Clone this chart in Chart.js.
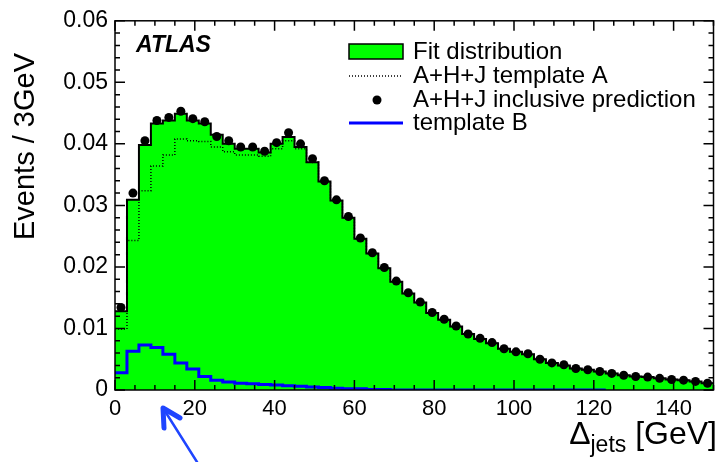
<!DOCTYPE html>
<html>
<head>
<meta charset="utf-8">
<script src="https://cdn.jsdelivr.net/npm/chart.js@4"></script>
<style>
    html, body { margin: 0; padding: 0; background: #ffffff; }
    #wrap { width: 718px; height: 462px; position: relative; }
</style>
</head>
<body>
<div id="wrap"><canvas id="chart" width="718" height="462"></canvas></div>
<script>
// Histogram binning (3 GeV bins from 0 to 150)
const BIN_WIDTH = 3;
const binEdges = Array.from({ length: 50 }, (_, i) => i * BIN_WIDTH);

// Fit distribution (green filled histogram)
const fitDistribution = [
    0.0128, 0.0309, 0.0398, 0.0433, 0.0438, 0.0449, 0.0438, 0.0433, 0.0415, 0.0400,
    0.0392, 0.0392, 0.0386, 0.0400, 0.0411, 0.0395, 0.0370, 0.0339, 0.0308, 0.0280,
    0.0246, 0.0222, 0.0198, 0.0176, 0.0157, 0.0142, 0.0125, 0.0114, 0.0103, 0.0091,
    0.0083, 0.0076, 0.0067, 0.0062, 0.0058, 0.0050, 0.0044, 0.0040, 0.0035, 0.0033,
    0.0030, 0.0027, 0.0024, 0.0022, 0.0021, 0.0019, 0.0017, 0.0016, 0.0014, 0.0011
];

// A+H+J template A (dotted)
const templateA = [
    0.0099, 0.0243, 0.0324, 0.0364, 0.0382, 0.0408, 0.0405, 0.0404, 0.0395, 0.0387,
    0.0382, 0.0382, 0.0380, 0.0392, 0.0405, 0.0392, 0.0370, 0.0339, 0.0308, 0.0280,
    0.0246, 0.0222, 0.0198, 0.0176, 0.0157, 0.0142, 0.0125, 0.0114, 0.0103, 0.0091,
    0.0083, 0.0076, 0.0067, 0.0062, 0.0058, 0.0050, 0.0044, 0.0040, 0.0035, 0.0033,
    0.0030, 0.0027, 0.0024, 0.0022, 0.0021, 0.0019, 0.0017, 0.0016, 0.0014, 0.0011
];

// A+H+J inclusive prediction (black dots at bin centres)
const inclusivePrediction = [
    0.0134, 0.0320, 0.0405, 0.0438, 0.0443, 0.0453, 0.0441, 0.0436, 0.0412, 0.0405,
    0.0395, 0.0395, 0.0388, 0.0402, 0.0418, 0.0400, 0.0376, 0.0340, 0.0309, 0.0282,
    0.0247, 0.0223, 0.0199, 0.0177, 0.0158, 0.0143, 0.0126, 0.0115, 0.0104, 0.0091,
    0.0084, 0.0077, 0.0067, 0.0062, 0.0059, 0.0050, 0.0044, 0.0041, 0.0035, 0.0033,
    0.0030, 0.0027, 0.0024, 0.0022, 0.0021, 0.0019, 0.0017, 0.0016, 0.0014, 0.0011
];

// template B (blue), drawn up to 123 GeV
const templateB = [
    0.0028, 0.0063, 0.0073, 0.0069, 0.0058, 0.0044, 0.0034, 0.0022, 0.0016, 0.0013,
    0.0011, 0.0010, 0.0009, 0.0008, 0.0007, 0.0006, 0.0005, 0.0004, 0.0003, 0.0002,
    0.0002, 0.0001, 0.0001, 0.0000, 0.0000, 0.0000, 0.0000, 0.0000, 0.0000, 0.0000,
    0.0000, 0.0000, 0.0000, 0.0000, 0.0000, 0.0000, 0.0000, 0.0000, 0.0000, 0.0000,
    0.0000
];

// Axis ticks
const xTicks = [0, 20, 40, 60, 80, 100, 120, 140];
const yTicks = [0, 0.01, 0.02, 0.03, 0.04, 0.05, 0.06];

const FONT = "'Liberation Sans', Arial, Helvetica, sans-serif";

// Turn per-bin values into step points (left edge of each bin + closing edge)
function toSteps(values) {
    const pts = values.map((v, i) => ({ x: binEdges[i], y: v }));
    pts.push({ x: binEdges[values.length - 1] + BIN_WIDTH, y: values[values.length - 1] });
    return pts;
}

function toCentres(values) {
    return values.map((v, i) => ({ x: binEdges[i] + BIN_WIDTH / 2, y: v }));
}

// Frame, inward ticks, texts, legend and arrow
const decorPlugin = {
    id: 'decor',
    afterDraw(chart) {
        const ctx = chart.ctx;
        const area = chart.chartArea;
        const xs = chart.scales.x;
        const ys = chart.scales.y;

        ctx.save();
        ctx.strokeStyle = '#000';
        ctx.lineWidth = 1.5;

        // x ticks (bottom + top), major every 20, minor every 5
        for (let v = 0; v <= 150; v += 5) {
            const px = xs.getPixelForValue(v);
            const len = v % 20 === 0 ? 10 : 5;
            ctx.beginPath();
            ctx.moveTo(px, area.bottom);
            ctx.lineTo(px, area.bottom - len);
            ctx.moveTo(px, area.top);
            ctx.lineTo(px, area.top + len);
            ctx.stroke();
        }
        // y ticks (left + right), major every 0.01, minor every 0.002
        for (let k = 0; k <= 30; k++) {
            const py = ys.getPixelForValue(k * 0.002);
            const len = k % 5 === 0 ? 10 : 5;
            ctx.beginPath();
            ctx.moveTo(area.left, py);
            ctx.lineTo(area.left + len, py);
            ctx.moveTo(area.right, py);
            ctx.lineTo(area.right - len, py);
            ctx.stroke();
        }
        ctx.strokeRect(area.left, area.top, area.right - area.left, area.bottom - area.top);

        ctx.fillStyle = '#000';
        // ATLAS label
        ctx.font = 'italic bold 23px ' + FONT;
        ctx.textAlign = 'left';
        ctx.textBaseline = 'middle';
        ctx.fillText('ATLAS', 136, 46);

        // Legend
        const lx0 = 349, lx1 = 403, tx = 413;
        const rows = [52, 76, 100, 123];
        ctx.fillStyle = '#00ff00';
        ctx.fillRect(lx0, 44, lx1 - lx0, 15);
        ctx.lineWidth = 1.5;
        ctx.strokeRect(lx0, 44, lx1 - lx0, 15);

        ctx.beginPath();
        ctx.setLineDash([1, 2]);
        ctx.lineWidth = 1.5;
        ctx.moveTo(lx0, rows[1]);
        ctx.lineTo(lx1, rows[1]);
        ctx.stroke();
        ctx.setLineDash([]);

        ctx.fillStyle = '#000';
        ctx.beginPath();
        ctx.arc(377, rows[2], 4.5, 0, Math.PI * 2);
        ctx.fill();

        ctx.strokeStyle = '#0000ff';
        ctx.lineWidth = 3;
        ctx.beginPath();
        ctx.moveTo(lx0, rows[3]);
        ctx.lineTo(lx1, rows[3]);
        ctx.stroke();

        ctx.font = '24px ' + FONT;
        ctx.fillStyle = '#000';
        ctx.fillText('Fit distribution', tx, rows[0]);
        ctx.fillText('A+H+J template A', tx, rows[1]);
        ctx.fillText('A+H+J inclusive prediction', tx, rows[2]);
        ctx.fillText('template B', tx, rows[3]);

        // y axis title
        ctx.save();
        ctx.translate(26, 53);
        ctx.rotate(-Math.PI / 2);
        ctx.font = '29px ' + FONT;
        ctx.textAlign = 'right';
        ctx.textBaseline = 'middle';
        ctx.fillText('Events / 3GeV', 0, 0);
        ctx.restore();

        // x axis title: Δ_jets [GeV]
        ctx.textBaseline = 'alphabetic';
        ctx.textAlign = 'right';
        ctx.font = '32px ' + FONT;
        const base = 444;
        let right = 717;
        ctx.fillText(' [GeV]', right, base);
        right -= ctx.measureText(' [GeV]').width;
        ctx.font = '23px ' + FONT;
        ctx.fillText('jets', right, base + 8);
        right -= ctx.measureText('jets').width;
        ctx.font = '32px ' + FONT;
        ctx.fillText('\u0394', right, base);

        // blue arrow pointing at the low-mass region
        ctx.strokeStyle = '#1f45ff';
        ctx.lineCap = 'round';
        ctx.lineJoin = 'round';
        ctx.lineWidth = 2.5;
        ctx.beginPath();
        ctx.moveTo(197, 462);
        ctx.lineTo(163, 408);
        ctx.stroke();
        ctx.lineWidth = 5;
        ctx.beginPath();
        ctx.moveTo(180, 418);
        ctx.lineTo(163, 408);
        ctx.lineTo(164, 428);
        ctx.stroke();

        ctx.restore();
    }
};

const ctx = document.getElementById('chart').getContext('2d');

new Chart(ctx, {
    type: 'line',
    data: {
        datasets: [
            {
                label: 'A+H+J inclusive prediction',
                data: toCentres(inclusivePrediction),
                showLine: false,
                pointRadius: 4.5,
                pointBackgroundColor: '#000',
                pointBorderWidth: 0,
                order: 1
            },
            {
                label: 'template B',
                data: toSteps(templateB),
                stepped: true,
                borderColor: '#0000ff',
                borderWidth: 3,
                pointRadius: 0,
                fill: false,
                order: 2
            },
            {
                label: 'Fit distribution outline',
                data: toSteps(fitDistribution),
                stepped: true,
                borderColor: '#000',
                borderWidth: 2,
                pointRadius: 0,
                fill: false,
                order: 3
            },
            {
                label: 'A+H+J template A',
                data: toSteps(templateA),
                stepped: true,
                borderColor: '#000',
                borderWidth: 1.5,
                borderDash: [1, 2],
                pointRadius: 0,
                fill: false,
                order: 4
            },
            {
                label: 'Fit distribution',
                data: toSteps(fitDistribution),
                stepped: true,
                borderWidth: 0,
                borderColor: 'rgba(0,0,0,0)',
                backgroundColor: '#00ff00',
                pointRadius: 0,
                fill: 'origin',
                order: 5
            }
        ]
    },
    options: {
        responsive: false,
        animation: false,
        events: [],
        layout: {
            padding: { left: 0, right: 1, top: 15, bottom: 0 }
        },
        plugins: {
            legend: { display: false },
            tooltip: { enabled: false }
        },
        scales: {
            x: {
                type: 'linear',
                min: 0,
                max: 150,
                grid: { display: false, drawTicks: false },
                border: { display: false },
                afterFit: scale => { scale.height = 72; },
                afterBuildTicks: scale => { scale.ticks = xTicks.map(v => ({ value: v })); },
                ticks: {
                    padding: 6,
                    maxRotation: 0,
                    color: '#000',
                    font: { family: FONT, size: 22 },
                    callback: v => String(v)
                }
            },
            y: {
                type: 'linear',
                min: 0,
                max: 0.06,
                grid: { display: false, drawTicks: false },
                border: { display: false },
                afterFit: scale => { scale.width = 115; },
                afterBuildTicks: scale => { scale.ticks = yTicks.map(v => ({ value: v })); },
                ticks: {
                    padding: 7,
                    color: '#000',
                    font: { family: FONT, size: 23 },
                    callback: v => (v === 0 ? '0' : v.toFixed(2))
                }
            }
        }
    },
    plugins: [decorPlugin]
});
</script>
</body>
</html>
